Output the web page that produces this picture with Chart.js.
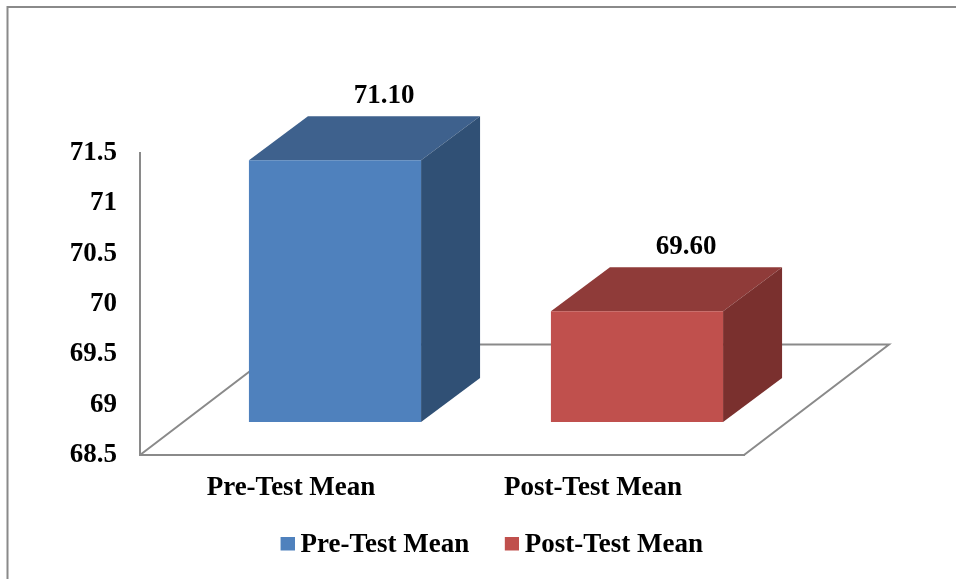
<!DOCTYPE html>
<html>
<head>
<meta charset="utf-8">
<title>Pre-Test and Post-Test Mean</title>
<script src="https://cdn.jsdelivr.net/npm/chart.js@4"></script>
<style>
  html, body { margin: 0; padding: 0; background: #fff; }
  canvas { display: block; }
</style>
</head>
<body>
<canvas id="chart" width="956" height="579"></canvas>
<script>
const categories = ['Pre-Test Mean', 'Post-Test Mean'];
const means = [71.10, 69.60];
const axisMin = 68.5;
const axisMax = 71.5;
const axisStep = 0.5;
const frontColors = ['#4f81bd', '#c0504d'];
const topColors = ['#3e618d', '#8f3b39'];
const sideColors = ['#305075', '#7a302e'];

const FONT = '"Liberation Serif", "Times New Roman", serif';
const LINE = '#8a8a8a';
// oblique offsets of the fake 3D look
const BAR_SHIFT = {x: 44, y: -33};
const BAR_DEPTH = {x: 59, y: -44};
const FLOOR_DEPTH = {x: 145, y: -110.5};

function poly(ctx, color, points) {
  ctx.fillStyle = color;
  ctx.beginPath();
  points.forEach(([x, y], i) => (i ? ctx.lineTo(x, y) : ctx.moveTo(x, y)));
  ctx.closePath();
  ctx.fill();
}

// small square for the legend, the native box sits too far from the text
function swatch(color) {
  const canvas = document.createElement('canvas');
  canvas.width = 16;
  canvas.height = 18;
  const ctx = canvas.getContext('2d');
  ctx.fillStyle = color;
  ctx.fillRect(2, 0, 14, 14);
  return canvas;
}

const fake3d = {
  id: 'fake3d',
  afterLayout(chart) {
    // labels.padding also sets the gap between items, so pull the legend up
    chart.legend.top -= 11;
    chart.legend.bottom -= 11;
  },
  beforeDraw(chart) {
    const ctx = chart.ctx;
    ctx.save();
    ctx.strokeStyle = LINE;
    ctx.lineWidth = 2;
    ctx.beginPath();
    ctx.moveTo(7.5, 579);
    ctx.lineTo(7.5, 7);
    ctx.lineTo(956, 7);
    ctx.stroke();
    ctx.restore();
  },
  beforeDatasetsDraw(chart) {
    const {ctx, chartArea: {left, right, bottom}} = chart;
    ctx.save();
    ctx.strokeStyle = LINE;
    ctx.lineWidth = 2;
    ctx.beginPath();
    ctx.moveTo(left, bottom);
    ctx.lineTo(left + FLOOR_DEPTH.x, bottom + FLOOR_DEPTH.y);
    ctx.lineTo(right + FLOOR_DEPTH.x, bottom + FLOOR_DEPTH.y);
    ctx.lineTo(right, bottom);
    ctx.stroke();
    ctx.restore();
  },
  beforeDatasetDraw(chart, args) {
    const ctx = chart.ctx;
    ctx.save();
    ctx.translate(BAR_SHIFT.x, BAR_SHIFT.y);
    args.meta.data.forEach((bar, i) => {
      const l = bar.x - bar.width / 2;
      const r = bar.x + bar.width / 2;
      const d = BAR_DEPTH;
      poly(ctx, topColors[i], [[l, bar.y], [r, bar.y], [r + d.x, bar.y + d.y], [l + d.x, bar.y + d.y]]);
      poly(ctx, sideColors[i], [[r, bar.y], [r + d.x, bar.y + d.y], [r + d.x, bar.base + d.y], [r, bar.base]]);
    });
  },
  afterDatasetDraw(chart, args) {
    const ctx = chart.ctx;
    ctx.restore();
    ctx.save();
    ctx.fillStyle = '#000';
    ctx.font = 'bold 27px ' + FONT;
    ctx.textAlign = 'center';
    ctx.textBaseline = 'middle';
    args.meta.data.forEach((bar, i) => {
      ctx.fillText(means[i].toFixed(2), bar.x + BAR_SHIFT.x + 49, bar.y + BAR_SHIFT.y + BAR_DEPTH.y - 20);
    });
    ctx.restore();
  },
};

new Chart(document.getElementById('chart'), {
  type: 'bar',
  data: {
    labels: categories,
    datasets: [{
      data: means,
      base: axisMin,
      backgroundColor: frontColors,
      categoryPercentage: 1,
      barPercentage: 0.57,
      clip: false,
    }],
  },
  plugins: [fake3d],
  options: {
    responsive: false,
    animation: false,
    layout: {padding: {top: 153, right: 212, bottom: -1}},
    scales: {
      x: {
        afterFit: (scale) => { scale.height = 47; },
        grid: {display: false, drawTicks: false},
        border: {color: LINE, width: 2},
        ticks: {color: '#000', padding: 17, font: {family: FONT, size: 27, weight: 'bold'}},
      },
      y: {
        min: axisMin,
        max: axisMax,
        afterFit: (scale) => { scale.width = 140; },
        grid: {display: false, drawTicks: false},
        border: {color: LINE, width: 2},
        ticks: {
          stepSize: axisStep,
          color: '#000',
          padding: 23,
          font: {family: FONT, size: 27, weight: 'bold'},
          callback: (value) => String(value),
        },
      },
    },
    plugins: {
      tooltip: {enabled: false},
      legend: {
        position: 'bottom',
        align: 'end',
        labels: {
          usePointStyle: true,
          boxWidth: 1,
          boxHeight: 14,
          padding: 41,
          color: '#000',
          font: {family: FONT, size: 27, weight: 'bold'},
          generateLabels: () => categories.map((text, i) => ({
            text,
            pointStyle: swatch(frontColors[i]),
            fillStyle: frontColors[i],
            strokeStyle: frontColors[i],
            lineWidth: 0,
            index: i,
          })),
        },
      },
    },
  },
});
</script>
</body>
</html>
